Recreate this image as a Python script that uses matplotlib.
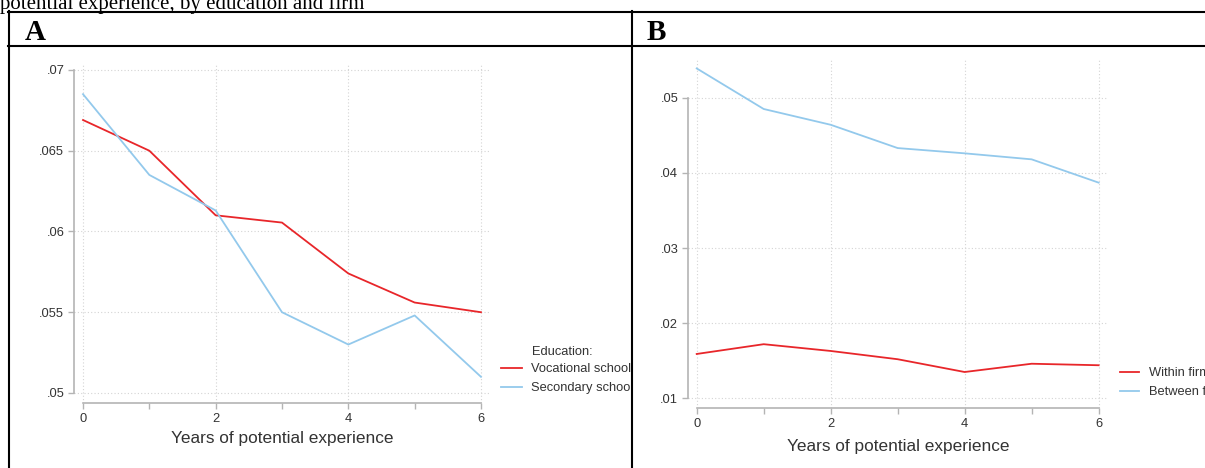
import matplotlib
matplotlib.use("Agg")
import matplotlib.pyplot as plt
from matplotlib.transforms import Bbox, TransformedBbox

# Data
years = [0, 1, 2, 3, 4, 5, 6]

# Panel A: by education
vocational = [0.0669, 0.0650, 0.0610, 0.06055, 0.0574, 0.0556, 0.0550]
secondary = [0.0685, 0.0635, 0.0613, 0.0550, 0.0530, 0.0548, 0.0510]
edu_labels = ["Vocational school", "Secondary school"]

# Panel B: within / between firms
within_firm = [0.0159, 0.0172, 0.0163, 0.0152, 0.0135, 0.0146, 0.0144]
between_firms = [0.0539, 0.0485, 0.0464, 0.0433, 0.0426, 0.0418, 0.0387]
firm_labels = ["Within firm", "Between firms"]

yticks_a = [0.05, 0.055, 0.06, 0.065, 0.07]
yticks_b = [0.01, 0.02, 0.03, 0.04, 0.05]
xticks = [0, 2, 4, 6]
xminor = [1, 3, 5]

RED = "#e8262a"
BLUE = "#93c9ec"
AXCOL = "#b4b4b4"
TXT = "#333333"

plt.rcParams["font.family"] = ["Liberation Sans", "DejaVu Sans"]

W, H = 1205, 468
fig = plt.figure(figsize=(W / 100, H / 100), dpi=100)


def px_axes(left, top, right, bottom):
    return fig.add_axes([left / W, 1 - bottom / H, (right - left) / W, (bottom - top) / H])


def fmt(v):
    s = ("%.3f" % v).rstrip("0")
    return s[1:] if s.startswith("0") else s


def style(ax, yticks, ylim, xlim, label_y):
    ax.set_xlim(*xlim)
    ax.set_ylim(*ylim)
    ax.set_yticks(yticks)
    ax.set_yticklabels([fmt(v) for v in yticks])
    ax.set_xticks(xticks)
    ax.set_xticks(xminor, minor=True)
    for s in ["top", "right"]:
        ax.spines[s].set_visible(False)
    ax.spines["left"].set_bounds(yticks[0], yticks[-1])
    ax.spines["bottom"].set_bounds(xticks[0], xticks[-1])
    for s in ["left", "bottom"]:
        ax.spines[s].set_color(AXCOL)
        ax.spines[s].set_linewidth(1.2)
    ax.tick_params(which="both", direction="out", length=4, width=1.0, color=AXCOL,
                   labelsize=9.3, labelcolor=TXT, pad=3)
    ax.grid(True, which="major", linestyle=(0, (1, 2)), color="#d4d4d4", linewidth=0.8)
    ax.set_axisbelow(True)
    ax.set_xlabel("Years of potential experience", fontsize=12.4, color=TXT)
    ax.xaxis.label.set_va("center")
    ax.xaxis.set_label_coords(0.5, label_y)


# Panel A
axA = px_axes(74, 63, 490, 403)
lA1, = axA.plot(years, vocational, color=RED, lw=1.3)
lA2, = axA.plot(years, secondary, color=BLUE, lw=1.3)
style(axA, yticks_a, (0.04938, 0.07043), (-0.136, 6.136), -35 / 340)

# Panel B
axB = px_axes(688, 60, 1108, 408)
lB1, = axB.plot(years, within_firm, color=RED, lw=1.3)
lB2, = axB.plot(years, between_firms, color=BLUE, lw=1.3)
style(axB, yticks_b, (0.00871, 0.05502), (-0.13, 6.14), -38 / 348)

clipA = TransformedBbox(Bbox([[0, 0], [631 / W, 1]]), fig.transFigure)

legA = fig.legend([lA1, lA2], edu_labels, loc="upper left",
                  bbox_to_anchor=(501 / W, 1 - 363 / H), frameon=False,
                  borderpad=0, borderaxespad=0, handlelength=1.6,
                  handletextpad=0.75, labelspacing=0.56, prop={"size": 9.3})
for t in legA.get_texts():
    t.set_color(TXT)
    t.set_clip_box(clipA)
    t.set_clip_on(True)
fig.text(531.7 / W, 1 - 352 / H, "Education:", fontsize=9.3, color=TXT, va="center")

legB = fig.legend([lB1, lB2], firm_labels, loc="upper left",
                  bbox_to_anchor=(1120 / W, 1 - 367 / H), frameon=False,
                  borderpad=0, borderaxespad=0, handlelength=1.5,
                  handletextpad=0.75, labelspacing=0.56, prop={"size": 9.3})
for t in legB.get_texts():
    t.set_color(TXT)

# Document table frame and headings
def hline(y, x0, x1):
    fig.add_artist(plt.Line2D([x0 / W, x1 / W], [1 - y / H, 1 - y / H], color="black", lw=1.5))


def vline(x, y0, y1):
    fig.add_artist(plt.Line2D([x / W, x / W], [1 - y0 / H, 1 - y1 / H], color="black", lw=1.5))


hline(12, 8, W + 5)
hline(46, 8, W + 5)
vline(9, 11, H + 5)
vline(632, 11, H + 5)

fig.text(0 / W, 1 - 9 / H, "potential experience, by education and firm",
         family="Liberation Serif", fontsize=15, va="baseline", ha="left")
fig.text(25 / W, 1 - 40 / H, "A", family="Liberation Serif", fontweight="bold",
         fontsize=21, va="baseline", ha="left")
fig.text(647 / W, 1 - 40 / H, "B", family="Liberation Serif", fontweight="bold",
         fontsize=21, va="baseline", ha="left")

fig.savefig("out.png", dpi=100)
